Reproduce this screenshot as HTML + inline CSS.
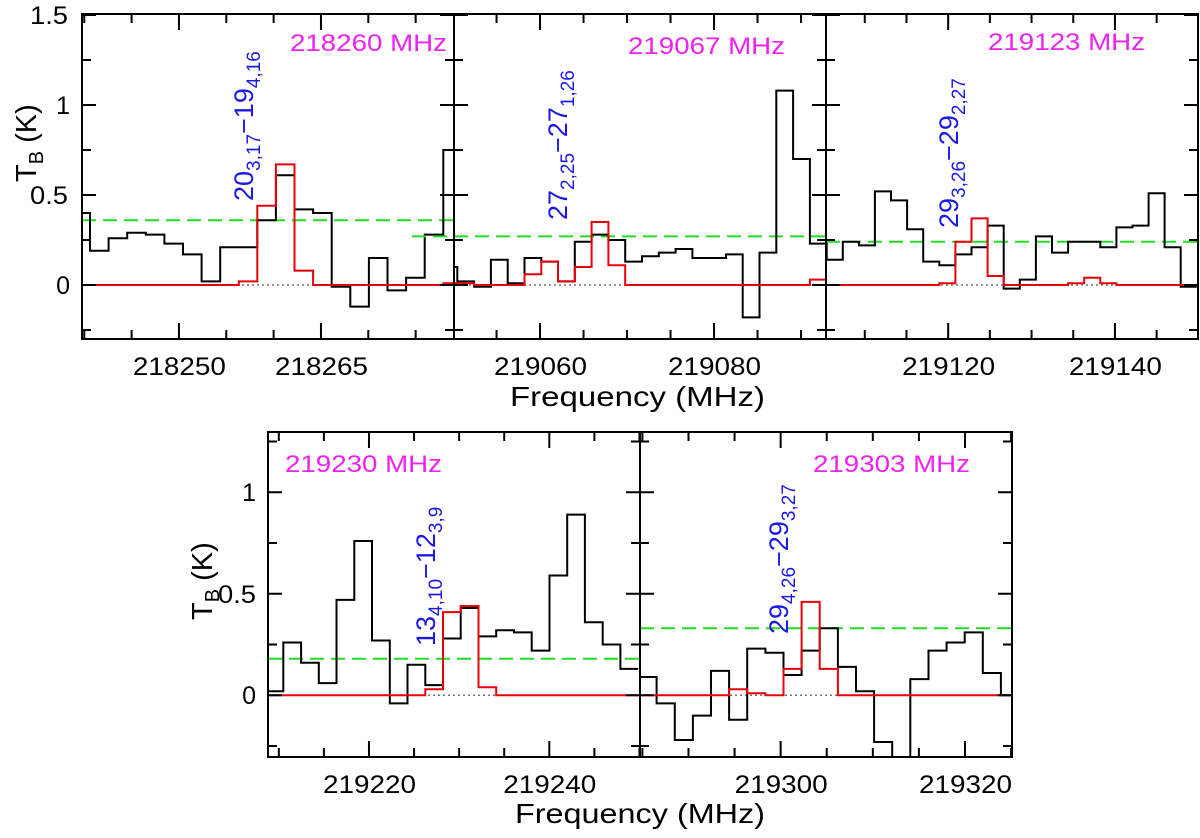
<!DOCTYPE html>
<html><head><meta charset="utf-8"><style>
html,body{margin:0;padding:0;background:#fff;}
svg{display:block;font-family:"Liberation Sans",sans-serif;}
</style></head><body>
<svg id="chart" width="1200" height="838" viewBox="0 0 1200 838" xmlns="http://www.w3.org/2000/svg">
<defs></defs>
<g id="root"></g>
</svg>
<script>
// ---- data (per panel) ----
const p1Obs = [0.40,0.19,0.26,0.29,0.28,0.23,0.17,0.02,0.21,0.21,0.36,0.61,0.42,0.40,-0.01,-0.12,0.15,-0.03,0.04,0.28,0.75];
const p1Mod = [0,0,0,0,0,0,0,0,0,0.02,0.44,0.67,0.08,0,0,0,0,0,0,0,0.01];
const p2Obs = [0.10,0.02,-0.01,0.14,0.01,0.15,0.13,0.02,0.24,0.28,0.25,0.13,0.16,0.18,0.20,0.15,0.15,0.17,-0.18,0.18,1.08,0.70,0.23];
const p2Mod = [0.01,0.01,0,0,0,0.06,0.13,0.02,0.10,0.35,0.11,0,0,0,0,0,0,0,0,0,0,0,0.03];
const p3Obs = [0.23,0.14,0.24,0.22,0.52,0.47,0.31,0.13,0.11,0.17,0.21,0.33,-0.02,0.03,0.27,0.18,0.24,0.24,0.21,0.32,0.33,0.51,0.21,-0.01];
const p3Mod = [0,0,0,0,0,0,0,0,0.01,0.24,0.37,0.05,0,0,0,0,0.01,0.04,0.01,0,0,0,0,0];
const p4Obs = [0.02,0.26,0.16,0.06,0.47,0.76,0.27,-0.04,0.15,0.05,0.28,0.43,0.29,0.32,0.31,0.22,0.59,0.89,0.36,0.25,0.13];
const p4Mod = [0,0,0,0,0,0,0,0,0,0.03,0.41,0.44,0.04,0,0,0,0,0,0,0,0];
const p5Obs = [0.09,-0.04,-0.22,-0.10,0.12,-0.12,0.23,0.21,0.10,0.22,0.33,0.14,0.02,-0.23,-0.45,0.08,0.22,0.26,0.31,0.11,0.0];
const p5Mod = [0,0,0,0,0,0.03,0.01,0,0.13,0.46,0.13,0,0,0,0,0,0,0,0,0,0];
const xTicks1 = [218250,218265], xTicks2=[219060,219080], xTicks3=[219120,219140], xTicks4=[219220,219240], xTicks5=[219300,219320];
const rmsLevels = [0.36,0.27,0.24,0.18,0.33];

const panels = [
 {id:'p1',L:82,R:454,T:14,B:339,f0:218239.76,f1:218279.05,zero:285,ppu:180,bin0:218238.64,bw:1.964,obs:p1Obs,mod:p1Mod,ticks:xTicks1,minor:5,rms:rmsLevels[0],gL:82,
  freq:'218260 MHz',fx:290,fy:51,tr:['20','3,17','19','4,16'],tx:253,ty:201},
 {id:'p2',L:454,R:826,T:14,B:339,f0:219050.11,f1:219092.87,zero:285,ppu:180,bin0:219048.56,bw:1.93,obs:p2Obs,mod:p2Mod,ticks:xTicks2,minor:5,rms:rmsLevels[1],gL:412,
  freq:'219067 MHz',fx:628,fy:54,tr:['27','2,25','27','1,26'],tx:567,ty:220},
 {id:'p3',L:826,R:1198,T:14,B:339,f0:219105.35,f1:219149.96,zero:285,ppu:180,bin0:219103.5,bw:1.93,obs:p3Obs,mod:p3Mod,ticks:xTicks3,minor:5,rms:rmsLevels[2],gL:826,
  freq:'219123 MHz',fx:988,fy:50,tr:['29','3,26','29','2,27'],tx:958,ty:228},
 {id:'p4',L:268,R:640,T:432,B:757,f0:219208.8,f1:219250.06,zero:695.3,ppu:203,bin0:219208.53,bw:1.968,obs:p4Obs,mod:p4Mod,ticks:xTicks4,minor:5,rms:rmsLevels[3],gL:268,gR:646,
  freq:'219230 MHz',fx:285,fy:472,tr:['13','4,10','12','3,9'],tx:435,ty:646},
 {id:'p5',L:640,R:1012,T:432,B:757,f0:219284.74,f1:219325.1,zero:695.3,ppu:203,bin0:219284.58,bw:1.966,obs:p5Obs,mod:p5Mod,ticks:xTicks5,minor:5,rms:rmsLevels[4],gL:640,
  freq:'219303 MHz',fx:813,fy:472,tr:['29','4,26','29','3,27'],tx:788,ty:634}
];
const NS='http://www.w3.org/2000/svg';
const root=document.getElementById('root');
const defs=document.querySelector('defs');
function mk(tag,attrs,parent){const e=document.createElementNS(NS,tag);for(const k in attrs)e.setAttribute(k,attrs[k]);(parent||root).appendChild(e);return e;}

panels.forEach(p=>{
  const xs=f=>p.L+(f-p.f0)/(p.f1-p.f0)*(p.R-p.L);
  const ys=v=>p.zero-v*p.ppu;
  const g=mk('g',{});
  
  
  const cp=mk('clipPath',{id:'clip-'+p.id},defs);
  mk('rect',{x:p.L,y:p.T,width:p.R-p.L,height:p.B-p.T},cp);
  const z=mk('line',{x1:p.L,x2:p.R,y1:ys(0),y2:ys(0),stroke:'#777','stroke-width':1.5,'stroke-dasharray':'2,3'},g);
  
  
  const gr=mk('line',{x1:p.gL,x2:p.gR||p.R,y1:ys(p.rms),y2:ys(p.rms),stroke:'#22dd22','stroke-width':2,'stroke-dasharray':'14,7'},g);
  
  
  function step(vals,color,name){
    let d='';
    vals.forEach((v,i)=>{const a=xs(p.bin0+i*p.bw),b=xs(p.bin0+(i+1)*p.bw);d+=(i===0?'M':'L')+a.toFixed(1)+','+ys(v).toFixed(1)+'L'+b.toFixed(1)+','+ys(v).toFixed(1);});
    const e=mk('path',{d:d,fill:'none',stroke:color,'stroke-width':2,'clip-path':'url(#clip-'+p.id+')'},g);
    
    
  }
  step(p.obs,'#000','observed-spectrum');
  step(p.mod,'#e8000b','model-spectrum');
  const fr=mk('rect',{x:p.L,y:p.T,width:p.R-p.L,height:p.B-p.T,fill:'none',stroke:'#000','stroke-width':2},g);
  
  
  let tk='';
  const m0=Math.ceil(p.f0/p.minor)*p.minor;
  for(let f=m0;f<=p.f1;f+=p.minor){const x=xs(f);const major=((f-p.ticks[0])%(p.ticks[1]-p.ticks[0])===0);const l=major?16:9;tk+=`M${x},${p.B}v${-l}M${x},${p.T}v${l}`;}
  for(let v=-0.25;v<=1.5;v+=0.25){const y=ys(v);if(y<p.T-0.5||y>p.B+0.5)continue;const l=(Math.abs(v*2-Math.round(v*2))<0.01)?14:9;tk+=`M${p.L},${y}h${l}M${p.R},${y}h${-l}`;}
  const te=mk('path',{d:tk,stroke:'#000','stroke-width':2,fill:'none'},g);
  
  
  p.ticks.forEach(t=>{const e=mk('text',{x:xs(t)-46,y:p.B+36,'font-size':25,textLength:93,lengthAdjust:'spacingAndGlyphs'},g);e.textContent=t;
    
    });
  const fl=mk('text',{x:p.fx,y:p.fy,'font-size':24,fill:'#ee22ee',textLength:157,lengthAdjust:'spacingAndGlyphs'},g);fl.textContent=p.freq;
  
  
  const tl=mk('text',{x:0,y:0,'font-size':27,fill:'#1a1ae6',transform:`translate(${p.tx},${p.ty}) rotate(-90)`},g);
  
  
  tl.innerHTML=`${p.tr[0]}<tspan font-size="19" dy="7">${p.tr[1]}</tspan><tspan dy="-7">\u2212${p.tr[2]}</tspan><tspan font-size="19" dy="7">${p.tr[3]}</tspan>`;
});
function lab(txt,x,y,name,anchor,len){const e=mk('text',{x:x,y:y,'font-size':25,'text-anchor':anchor||'end'});if(len){e.setAttribute('textLength',len);e.setAttribute('lengthAdjust','spacingAndGlyphs');}e.textContent=txt;return e;}
lab('1.5',30,24,'y-tick-label','start',38);lab('1',70,114,'y-tick-label');lab('0.5',30,204,'y-tick-label','start',38);lab('0',70,294,'y-tick-label');
lab('1',256,501,'y-tick-label');lab('0.5',218,603,'y-tick-label','start',38);lab('0',256,704,'y-tick-label');
const t1=lab('Frequency (MHz)',510,406,'x-axis-title','start',255);t1.setAttribute('font-size',28);
const t2=lab('Frequency (MHz)',515,823,'x-axis-title','start',250);t2.setAttribute('font-size',28);
function ylab(x,y){const e=mk('text',{transform:`translate(${x},${y}) rotate(-90)`,'font-size':29});e.innerHTML='T<tspan font-size="20" dy="7">B</tspan><tspan dy="-7"> (K)</tspan>';}
ylab(36,182);ylab(212,620);
</script>
</body></html>
